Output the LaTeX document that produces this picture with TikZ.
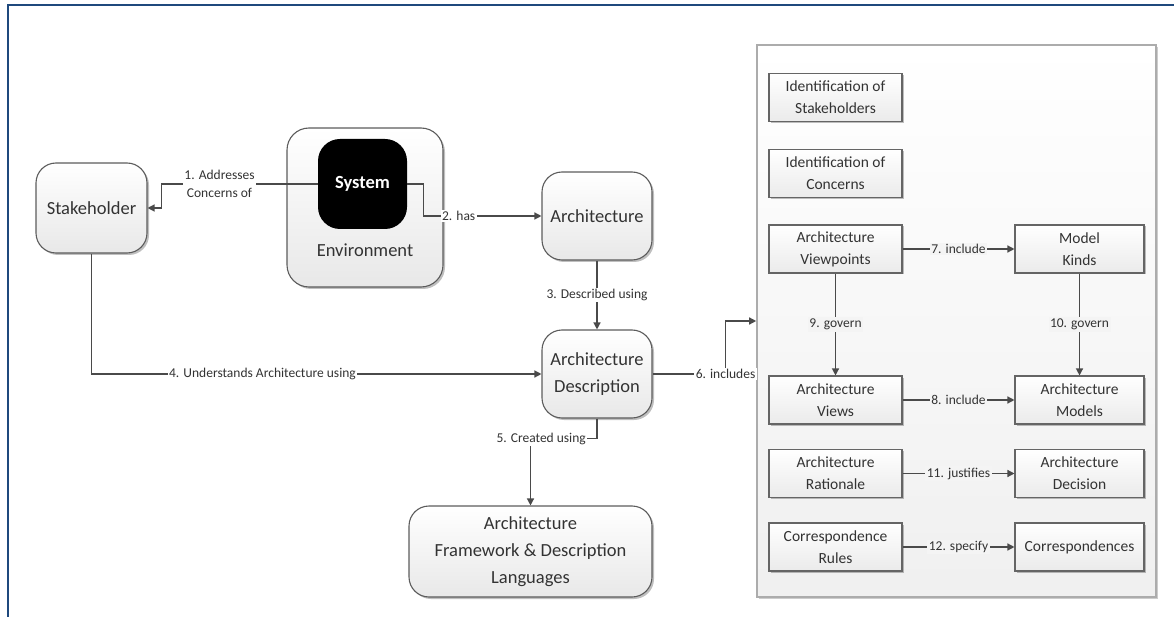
\documentclass[tikz,border=0pt]{standalone}
\usepackage{fontspec}
\setmainfont{Carlito}
\usetikzlibrary{arrows.meta,shadows,calc}
\definecolor{frameblue}{HTML}{1F497D}
\definecolor{edgegray}{HTML}{4A4A4A}
\definecolor{ink}{HTML}{333333}
\definecolor{panelfill}{HTML}{F4F4F4}

\begin{document}
\begin{tikzpicture}[x=1pt,y=-1pt,
  softshadow/.style={drop shadow={shadow xshift=2pt,shadow yshift=-2pt,opacity=0.25,fill=black}},
  roundbox/.style={draw=edgegray!90, line width=1.1pt, rounded corners=20pt,
    top color=white, bottom color=gray!18, softshadow,
    font=\fontsize{18.5}{27}\selectfont, text=ink, align=center, inner sep=0pt},
  panel/.style={draw=gray!65, line width=1.6pt, top color=white, bottom color=gray!12,
    drop shadow={shadow xshift=2pt,shadow yshift=-2pt,opacity=0.2,fill=black}, inner sep=0pt},
  itembox/.style={draw=edgegray!85, line width=1.1pt, top color=white, bottom color=gray!16,
    drop shadow={shadow xshift=1.5pt,shadow yshift=-1.5pt,opacity=0.25,fill=black},
    font=\fontsize{15.5}{22}\selectfont, text=ink, align=center, inner sep=0pt,
    minimum height=48pt},
  leftitem/.style={itembox, minimum width=133pt},
  rightitem/.style={itembox, minimum width=129pt},
  conn/.style={draw=edgegray, line width=1.3pt, -{Triangle[length=7pt,width=7pt]}},
  lbl/.style={font=\fontsize{13.5}{18}\selectfont, fill=white, inner sep=1.5pt, text=ink, align=center},
  plbl/.style={lbl, fill=panelfill}
]
\useasboundingbox (0,0) rectangle (1174,617);

% outer frame (top and left edges only)
\draw[frameblue, line width=2.6pt] (8,617) -- (8,5) -- (1174,5);

% left-hand concepts
\node[roundbox, minimum width=111pt, minimum height=90pt] (stake) at (91.5,208) {Stakeholder};
\node[roundbox, rounded corners=22pt, minimum width=156pt, minimum height=159pt] (env) at (365,207.5) {};
\node[fill=black, rounded corners=22pt, minimum width=89pt, minimum height=90pt, inner sep=0pt,
      text=white, font=\fontsize{18.5}{27}\selectfont\bfseries] (sys) at (362.5,184) {System};
\node[font=\fontsize{18.5}{27}\selectfont, text=ink] (envtext) at (365,250) {Environment};
\node[roundbox, minimum width=110pt, minimum height=88pt] (arch) at (597,216) {Architecture};
\node[roundbox, minimum width=110pt, minimum height=88pt] (ad) at (597,374) {Architecture\\Description};
\node[roundbox, minimum width=243pt, minimum height=91pt] (fw) at (530.5,551.5)
  {Architecture\\Framework \& Description\\Languages};

% description elements panel
\node[panel, minimum width=399pt, minimum height=552pt] (big) at (956.5,321) {};
\node[leftitem] (ids) at (835.5,97.5) {Identification of\\Stakeholders};
\node[leftitem] (idc) at (835.5,173.5) {Identification of\\Concerns};
\node[leftitem] (vp) at (835.5,249) {Architecture\\Viewpoints};
\node[rightitem] (mk) at (1079.5,249) {Model\\Kinds};
\node[leftitem] (views) at (835.5,400) {Architecture\\Views};
\node[rightitem] (models) at (1079.5,400) {Architecture\\Models};
\node[leftitem] (rat) at (835.5,473.5) {Architecture\\Rationale};
\node[rightitem] (dec) at (1079.5,473.5) {Architecture\\Decision};
\node[leftitem] (crules) at (835.5,547) {Correspondence\\Rules};
\node[rightitem] (corr) at (1079.5,547) {Correspondences};

% relations
\draw[conn] (sys.west) -- ++(-156,0) node[lbl, pos=0.63] {1. Addresses\\Concerns of} |- (stake.east);
\draw[conn] (sys.east) -- ++(16,0) -- ++(0,32) -- (arch.west) node[lbl, pos=0.3] {2. has};
\draw[conn] (arch.south) -- (ad.north) node[lbl, midway] {3. Described using};
\draw[conn] (stake.south) |- (ad.west) node[lbl, pos=0.69] {4. Understands Architecture using};
\draw[conn] (ad.south) -- ++(0,20) -| (fw.north) node[lbl, pos=0.42] {5. Created using};
\draw[conn] (ad.east) -- ++(73,0) node[lbl, pos=1] {6. includes} |- (big.west);

\draw[conn] (vp.east) -- (mk.west) node[plbl, midway] {7. include};
\draw[conn] (views.east) -- (models.west) node[plbl, midway] {8. include};
\draw[conn] (vp.south) -- (views.north) node[plbl, midway] {9. govern};
\draw[conn] (mk.south) -- (models.north) node[plbl, midway] {10. govern};
\draw[conn] (rat.east) -- (dec.west) node[plbl, midway] {11. justifies};
\draw[conn] (crules.east) -- (corr.west) node[plbl, midway] {12. specify};
\end{tikzpicture}
\end{document}
